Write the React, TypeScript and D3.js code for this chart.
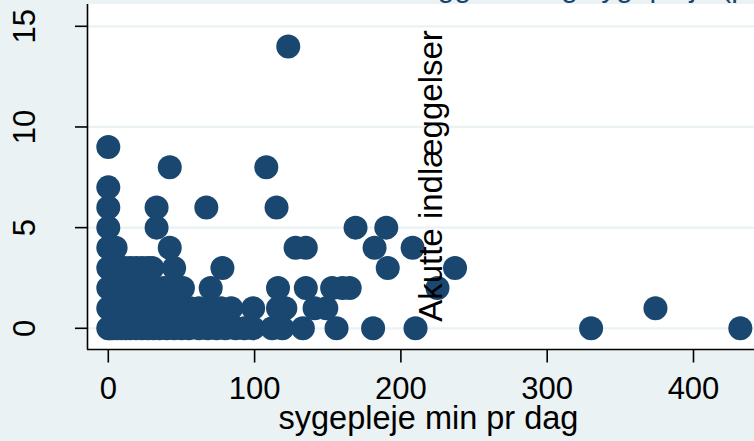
import React from "react";
import * as d3 from "d3";

// Sygepleje minutter pr dag (x) og akutte indlæggelser (y), one entry per observation
const nurseMinutes: number[] = [
  123,
  0,
  42, 108,
  0,
  0, 33, 67, 115,
  0, 33, 169, 190,
  0, 5, 42, 128, 135, 182, 208,
  0, 3, 7, 11, 15, 19, 23, 27, 30, 45, 78, 191, 237,
  0, 2, 5, 8, 12, 16, 20, 24, 28, 33, 38, 42, 47, 51, 70, 116, 135, 153, 160, 165, 225,
  0, 2, 5, 9, 13, 17, 21, 25, 30, 35, 40, 45, 50, 56, 62, 70, 77, 84, 99, 116, 121, 141, 149, 374,
  0, 1, 3, 6, 9, 12, 15, 19, 23, 27, 31, 35, 40, 45, 50, 55, 62, 68, 74, 80, 87, 93, 99, 112, 119, 133, 156, 181, 210, 330, 432,
];
const acuteAdmissions: number[] = [
  14,
  9,
  8, 8,
  7,
  6, 6, 6, 6,
  5, 5, 5, 5,
  4, 4, 4, 4, 4, 4, 4,
  3, 3, 3, 3, 3, 3, 3, 3, 3, 3, 3, 3, 3,
  2, 2, 2, 2, 2, 2, 2, 2, 2, 2, 2, 2, 2, 2, 2, 2, 2, 2, 2, 2, 2,
  1, 1, 1, 1, 1, 1, 1, 1, 1, 1, 1, 1, 1, 1, 1, 1, 1, 1, 1, 1, 1, 1, 1, 1,
  0, 0, 0, 0, 0, 0, 0, 0, 0, 0, 0, 0, 0, 0, 0, 0, 0, 0, 0, 0, 0, 0, 0, 0, 0, 0, 0, 0, 0, 0, 0,
];
const xTicks: number[] = [0, 100, 200, 300, 400];
const yTicks: number[] = [0, 5, 10, 15];
const xTitle = "sygepleje min pr dag";
const yTitle = "Akutte indlæggelser";
const chartTitle = "Akutte indlæggelser og sygepleje (pr. dag)";

const W = 754;
const H = 441;
const plotLeft = 88;
const plotTop = 4;
const plotRight = 770;
const plotBottom = 349;

export default function App() {
  const x = d3.scaleLinear().domain([0, 400]).range([108.3, 693.5]);
  const y = d3.scaleLinear().domain([0, 15]).range([328.3, 26.3]);
  const navy = "#1a476f";
  const bg = "#eaf2f3";
  const font = "'Liberation Sans', Arial, Helvetica, sans-serif";
  const pts = nurseMinutes.map((v, i) => [v, acuteAdmissions[i]] as [number, number]);

  return (
    <svg
      width={W}
      height={H}
      style={{ position: "absolute", left: 0, top: 0, display: "block" }}
      fontFamily={font}
    >
      <rect x={0} y={0} width={W} height={H} fill={bg} />
      <text x={552} y={-3} textAnchor="middle" fontSize={30} fill={navy}>
        {chartTitle}
      </text>
      <rect x={plotLeft} y={plotTop} width={plotRight - plotLeft} height={plotBottom - plotTop} fill="#ffffff" />
      {yTicks.map((t) => (
        <line key={"g" + t} x1={plotLeft} x2={plotRight} y1={y(t)} y2={y(t)} stroke={bg} strokeWidth={2.2} />
      ))}
      {pts.map(([a, b], i) => (
        <circle key={i} cx={x(a)} cy={y(b)} r={12} fill={navy} />
      ))}
      <line x1={plotLeft - 0.5} x2={plotLeft - 0.5} y1={plotTop} y2={plotBottom + 0.5} stroke="#000" strokeWidth={1.6} />
      <line x1={plotLeft - 1} x2={W} y1={plotBottom + 0.5} y2={plotBottom + 0.5} stroke="#000" strokeWidth={1.6} />
      {yTicks.map((t) => (
        <g key={"y" + t}>
          <line x1={75} x2={plotLeft} y1={y(t)} y2={y(t)} stroke="#000" strokeWidth={1.6} />
          <text
            transform={`translate(35,${y(t)}) rotate(-90)`}
            textAnchor="middle"
            fontSize={31}
            fill="#000"
          >
            {t}
          </text>
        </g>
      ))}
      {xTicks.map((t) => (
        <g key={"x" + t}>
          <line x1={x(t)} x2={x(t)} y1={plotBottom} y2={362.5} stroke="#000" strokeWidth={1.6} />
          <text x={x(t)} y={398.5} textAnchor="middle" fontSize={31} fill="#000">
            {t}
          </text>
        </g>
      ))}
      <text x={428.5} y={429} textAnchor="middle" fontSize={32.5} fill="#000">
        {xTitle}
      </text>
      <text
        transform={`translate(442,176) rotate(-90)`}
        textAnchor="middle"
        fontSize={33}
        fill="#000"
      >
        {yTitle}
      </text>
    </svg>
  );
}
